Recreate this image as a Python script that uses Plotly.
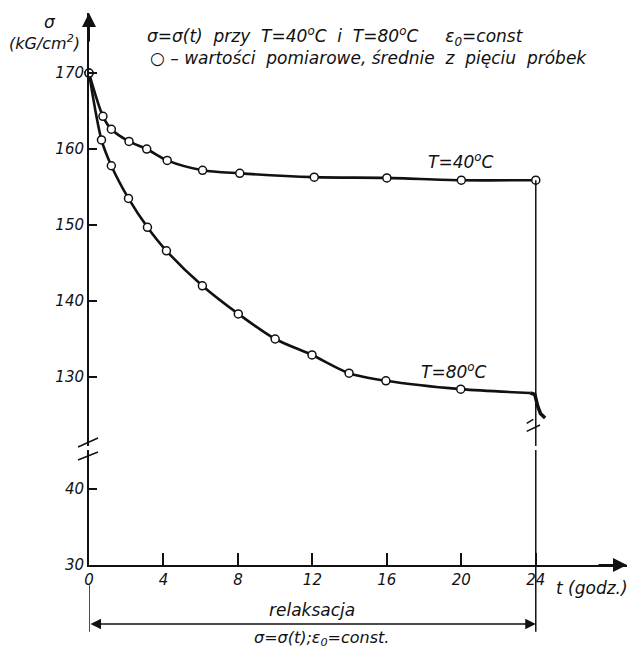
import plotly.graph_objects as go

# ---- data ----
t40 = [0, 0.75, 1.2, 2.15, 3.1, 4.2, 6.1, 8.1, 12.1, 16.0, 20.0, 24.0]
s40 = [170, 164.3, 162.6, 161.0, 160.0, 158.5, 157.2, 156.8, 156.3, 156.2, 155.9, 155.9]

t80 = [0, 0.67, 1.2, 2.12, 3.14, 4.16, 6.09, 8.02, 10.0, 11.98, 13.97, 15.95, 19.97]
s80 = [170, 161.2, 157.8, 153.5, 149.7, 146.6, 142.0, 138.3, 135.0, 132.9, 130.5, 129.5, 128.4]
t80_end = [23.7]
s80_end = [127.9]
# jagged break mark at the end of the 80 C curve
t_zig = [23.7, 23.95, 24.1, 24.25, 24.5]
s_zig = [127.9, 127.7, 126.2, 125.2, 124.6]

x_ticks = [0, 4, 8, 12, 16, 20, 24]
y_up_ticks = [130, 140, 150, 160, 170]
y_low_ticks = [30, 40]

FONT = "DejaVu Sans, sans-serif"
BLACK = "#111111"

fig = go.Figure()

marker = dict(symbol="circle", size=8, color="white", line=dict(color=BLACK, width=1.5))

# 40 C
fig.add_trace(go.Scatter(x=t40, y=s40, yaxis="y2", mode="lines",
                         line=dict(color=BLACK, width=2.6, shape="spline", smoothing=0.8),
                         hoverinfo="skip", showlegend=False))
# 80 C
fig.add_trace(go.Scatter(x=t80 + t80_end, y=s80 + s80_end, yaxis="y2", mode="lines",
                         line=dict(color=BLACK, width=2.6, shape="spline", smoothing=0.8),
                         hoverinfo="skip", showlegend=False))
fig.add_trace(go.Scatter(x=t_zig, y=s_zig, yaxis="y2", mode="lines",
                         line=dict(color=BLACK, width=3.5),
                         hoverinfo="skip", showlegend=False))
# markers
fig.add_trace(go.Scatter(x=t40, y=s40, yaxis="y2", mode="markers", marker=marker,
                         showlegend=False, cliponaxis=False))
fig.add_trace(go.Scatter(x=t80, y=s80, yaxis="y2", mode="markers", marker=marker,
                         showlegend=False, cliponaxis=False))

tickfont = dict(family=FONT, size=15, color=BLACK, style="italic")

fig.update_layout(
    width=627, height=650,
    margin=dict(l=89, r=0, t=13, b=85),
    paper_bgcolor="white", plot_bgcolor="white",
    font=dict(family=FONT, color=BLACK),
    xaxis=dict(range=[0, 28.9], tickvals=x_ticks, ticktext=[str(v) for v in x_ticks],
               ticks="inside", ticklen=12, tickwidth=1.8, tickcolor=BLACK,
               showline=True, linecolor=BLACK, linewidth=2, showgrid=False, zeroline=False,
               tickfont=tickfont, anchor="y"),
    yaxis=dict(domain=[0, 0.2083], range=[30, 45.13], tickvals=y_low_ticks,
               ticks="inside", ticklen=8, tickwidth=1.8, tickcolor=BLACK,
               showline=True, linecolor=BLACK, linewidth=2, showgrid=False, zeroline=False,
               tickfont=tickfont, anchor="x"),
    yaxis2=dict(domain=[0.2156, 1], range=[120.92, 177.9], tickvals=y_up_ticks,
                ticks="inside", ticklen=8, tickwidth=1.8, tickcolor=BLACK,
                showline=True, linecolor=BLACK, linewidth=2, showgrid=False, zeroline=False,
                tickfont=tickfont, anchor="x"),
)

# vertical line at t = 24
line_thin = dict(color=BLACK, width=1.5)
fig.add_shape(type="line", xref="x", yref="y2", x0=24, x1=24, y0=s40[-1], y1=120.92, line=line_thin)
fig.add_shape(type="line", xref="x", yref="y", x0=24, x1=24, y0=30, y1=45.13, line=line_thin)
fig.add_shape(type="line", xref="x", yref="paper", x0=24, x1=24, y0=0, y1=-0.121, line=line_thin)
fig.add_shape(type="line", xref="x", yref="paper", x0=0, x1=0, y0=-0.036, y1=-0.121, line=line_thin)

# break slashes (y axis and at t = 24)
for (xa, ya, xb, yb) in [(-0.0204, 0.2138, 0.0167, 0.2301), (-0.0204, 0.1902, 0.0167, 0.2047),
                         (0.8136, 0.2567, 0.8258, 0.2640), (0.8136, 0.2420, 0.8383, 0.2536)]:
    fig.add_shape(type="line", xref="paper", yref="paper", x0=xa, y0=ya, x1=xb, y1=yb,
                  line=dict(color=BLACK, width=1.5))

# arrows
fig.add_annotation(xref="x", yref="paper", x=0, y=1.0, axref="pixel", ayref="pixel", ax=0, ay=30,
                   showarrow=True, arrowhead=2, arrowsize=1.4, arrowwidth=2, arrowcolor=BLACK, text="")
fig.add_annotation(xref="x", yref="paper", x=28.9, y=0, axref="pixel", ayref="pixel", ax=-30, ay=0,
                   showarrow=True, arrowhead=2, arrowsize=1.4, arrowwidth=2, arrowcolor=BLACK, text="")
fig.add_annotation(xref="x", yref="paper", x=24, y=-0.1069, axref="x", ayref="pixel", ax=0, ay=0,
                   showarrow=True, arrowhead=2, arrowside="end+start", arrowsize=1.4, arrowwidth=1.5,
                   arrowcolor=BLACK, text="")

def txt(x, y, s, size=15, xref="paper", yref="paper", xanchor="center", yanchor="middle"):
    fig.add_annotation(x=x, y=y, xref=xref, yref=yref, text=s, showarrow=False,
                       xanchor=xanchor, yanchor=yanchor,
                       font=dict(family=FONT, size=size, color=BLACK, style="italic"))

txt(-0.0725, 0.9837, "σ", size=17)
txt(-0.0818, 0.9457, "(kG/cm<sup>2</sup>)", size=16)
txt(0.104, 0.957, "σ=σ(t)  przy  T=40<sup>o</sup>C  i  T=80<sup>o</sup>C     ε<sub>0</sub>=const",
    size=17, xanchor="left")
txt(0.1097, 0.918, "○ – wartości  pomiarowe, średnie  z  pięciu  próbek", size=17, xanchor="left")
txt(20.0, 158.4, "T=40<sup>o</sup>C", size=17, xref="x", yref="y2")
txt(19.6, 130.8, "T=80<sup>o</sup>C", size=17, xref="x", yref="y2")
txt(0.935, -0.0417, "t (godz.)", size=17)
txt(12.0, -0.0815, "relaksacja", size=17, xref="x")
txt(12.5, -0.1335, "σ=σ(t);ε<sub>0</sub>=const.", size=16, xref="x")

fig.write_html("out.html", post_script="document.body.style.margin='0';",
               config={"displayModeBar": False})
